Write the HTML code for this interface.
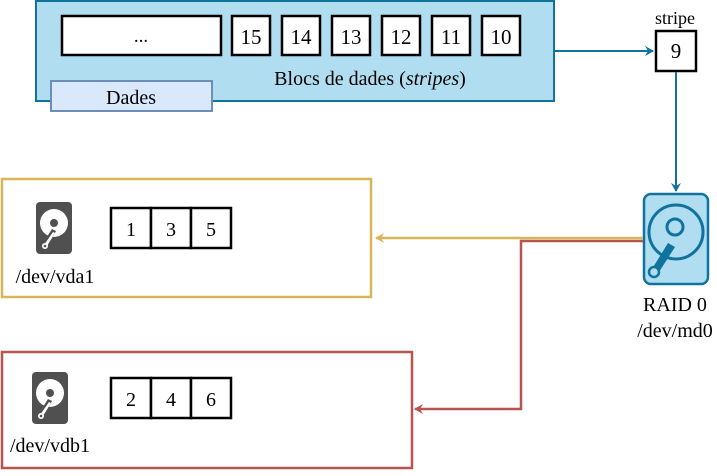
<!DOCTYPE html>
<html><head><meta charset="utf-8"><style>
html,body{margin:0;padding:0;background:#fff;}
svg, svg text{font-family:"Liberation Serif","DejaVu Serif",serif;}
</style></head><body>
<svg width="717" height="471" viewBox="0 0 717 471" xmlns="http://www.w3.org/2000/svg" font-family="Liberation Serif, DejaVu Serif, serif">
<defs>
<marker id="ab" markerWidth="10" markerHeight="10" refX="8" refY="5" orient="auto" markerUnits="userSpaceOnUse"><path d="M0,0 L9,5 L0,10 L3,5 Z" fill="#10739e"/></marker>
<marker id="ay" markerWidth="10" markerHeight="10" refX="8" refY="5" orient="auto" markerUnits="userSpaceOnUse"><path d="M0,0 L9,5 L0,10 L3,5 Z" fill="#d6b656"/></marker>
<marker id="ar" markerWidth="10" markerHeight="10" refX="8" refY="5" orient="auto" markerUnits="userSpaceOnUse"><path d="M0,0 L9,5 L0,10 L3,5 Z" fill="#b85450"/></marker>
<g id="gd">
<rect x="0" y="0" width="36" height="52" rx="4" fill="#505050"/>
<circle cx="18" cy="21" r="14" fill="#fff"/>
<circle cx="18" cy="21" r="4" fill="#505050"/>
<path d="M16,27 L20,29 L11,46 L5,44 Z" fill="#505050"/>
<path d="M17,30 L19,31 L11,44 L8,43 Z" fill="#fff"/>
<circle cx="9" cy="44" r="3" fill="#fff"/>
<circle cx="9" cy="44" r="1.3" fill="#505050"/>
</g>
</defs>

<rect x="36" y="1" width="518" height="100" fill="#b1ddf0" stroke="#10739e" stroke-width="2"/>
<rect x="62" y="16" width="159" height="39" fill="#fff" stroke="#000" stroke-width="2.5"/>
<text x="141" y="42" font-size="19" text-anchor="middle">...</text>
<g stroke="#000" stroke-width="2.5" fill="#fff">
<rect x="232" y="16" width="38" height="39"/><rect x="282" y="16" width="38" height="39"/><rect x="332" y="16" width="38" height="39"/><rect x="382" y="16" width="38" height="39"/><rect x="432" y="16" width="38" height="39"/><rect x="482" y="16" width="38" height="39"/>
</g>
<g font-size="21" text-anchor="middle">
<text x="251" y="44">15</text><text x="301" y="44">14</text><text x="351" y="44">13</text><text x="401" y="44">12</text><text x="451" y="44">11</text><text x="501" y="44">10</text>
</g>
<text x="370" y="85" font-size="20" text-anchor="middle">Blocs de dades (<tspan font-style="italic">stripes</tspan>)</text>
<rect x="51" y="81" width="161" height="30" fill="#dae8fc" stroke="#6c8ebf" stroke-width="2"/>
<text x="131" y="104" font-size="20" text-anchor="middle">Dades</text>

<line x1="555" y1="51" x2="653" y2="51" stroke="#10739e" stroke-width="2" marker-end="url(#ab)"/>
<text x="675" y="24" font-size="18" text-anchor="middle">stripe</text>
<rect x="656" y="31" width="40" height="40" fill="#fff" stroke="#000" stroke-width="2.5"/>
<text x="676" y="58" font-size="21" text-anchor="middle">9</text>
<line x1="676" y1="72" x2="676" y2="191" stroke="#10739e" stroke-width="2" marker-end="url(#ab)"/>

<rect x="644" y="194" width="64" height="90" rx="7" fill="#b1ddf0" stroke="#10739e" stroke-width="2.5"/>
<circle cx="676" cy="232" r="27" fill="none" stroke="#10739e" stroke-width="3"/>
<circle cx="675" cy="227" r="8" fill="none" stroke="#10739e" stroke-width="3"/>
<path d="M668,243 L675,247 L659,272 L652,269 Z" fill="#10739e"/>
<circle cx="654" cy="272" r="5" fill="#b1ddf0" stroke="#10739e" stroke-width="2.5"/>
<text x="675" y="311" font-size="20" text-anchor="middle">RAID 0</text>
<text x="675" y="337" font-size="20" text-anchor="middle">/dev/md0</text>

<rect x="2" y="179" width="369" height="118" fill="#fff" stroke="#d6b656" stroke-width="2.5"/>
<rect x="2" y="352" width="410" height="116" fill="#fff" stroke="#b85450" stroke-width="2.5"/>

<polyline points="643,241 521,241 521,409 415,409" fill="none" stroke="#b85450" stroke-width="2.5" marker-end="url(#ar)"/>
<line x1="643" y1="238" x2="376" y2="238" stroke="#d6b656" stroke-width="2.5" marker-end="url(#ay)"/>

<use href="#gd" x="36" y="202"/>
<use href="#gd" x="32" y="372"/>
<g fill="#fff" stroke="#000" stroke-width="2.5">
<rect x="111" y="208" width="40" height="40"/><rect x="151" y="208" width="40" height="40"/><rect x="191" y="208" width="40" height="40"/>
<rect x="111" y="378" width="40" height="40"/><rect x="151" y="378" width="40" height="40"/><rect x="191" y="378" width="40" height="40"/>
</g>
<g font-size="20" text-anchor="middle">
<text x="131" y="236">1</text><text x="171" y="236">3</text><text x="211" y="236">5</text>
<text x="131" y="406">2</text><text x="171" y="406">4</text><text x="211" y="406">6</text>
<text x="55" y="283">/dev/vda1</text>
<text x="50" y="452">/dev/vdb1</text>
</g>
</svg>
</body></html>
